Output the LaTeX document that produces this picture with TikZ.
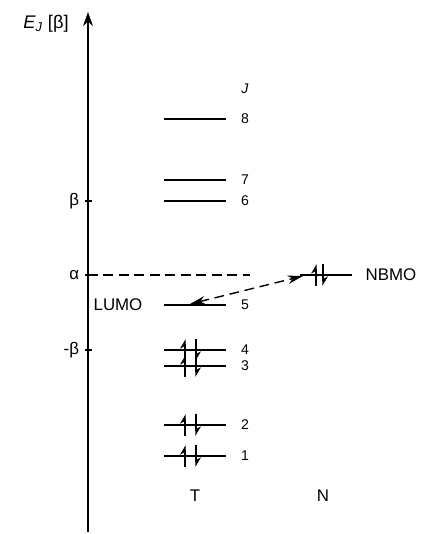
\documentclass[tikz,border=0pt]{standalone}
\usepackage{fontspec}
\setmainfont{Liberation Sans}
\usetikzlibrary{arrows.meta}

\tikzset{
  orbital/.style={line width=1pt},
  spin/.style={line width=1pt,-{Stealth[harpoon,length=6pt,width=7pt]}},
  numlabel/.style={font=\fontsize{10}{12}\selectfont},
  hop/.style={line width=1pt,dash pattern=on 7pt off 4pt,
    {Stealth[length=11pt,width=6pt]}-{Stealth[length=11pt,width=6pt]}},
}
% a pair of electrons on a level at height #3
\newcommand{\epair}[3]{%
  \draw[spin] (#1,#3-11) -- (#1,#3+11);
  \draw[spin] (#2,#3+11) -- (#2,#3-11);}

\begin{document}
\begin{tikzpicture}[x=0.025cm,y=0.025cm,font=\fontsize{12}{14}\selectfont]
  \useasboundingbox (0,0) rectangle (426,534);
  % energy axis
  \coordinate (axbot) at (88,2);
  \coordinate (axtop) at (88,522);
  \draw[line width=1.1pt,-{Stealth[length=10pt,width=7pt]}] (axbot) -- (axtop);
  \node (elab) at (46,510) {\fontsize{13}{15}\selectfont\textit{E}\textsubscript{\textit{J}} [β]};
  \draw[line width=1pt] (85,333) -- (92,333);
  \draw[line width=1pt] (85,259) -- (92,259);
  \draw[line width=1pt] (85,184) -- (92,184);
  \node[left] (tbeta) at (84,333) {β};
  \node[left] (talpha) at (84,259) {α};
  \node[left] (tmbeta) at (84,184) {-β};
  \draw[line width=1pt,dash pattern=on 7pt off 4pt] (88,259) -- (250,259);
  % levels of T
  \node[numlabel] (jlab) at (245,445) {\textit{J}};
  \foreach \n/\y in {8/415,7/354,6/333,5/229,4/184,3/168,2/109,1/78} {
    \draw[orbital] (164,\y) -- (226,\y);
    \node[numlabel] (n\n) at (245,\y) {\n};
  }
  \epair{185}{196}{184}
  \epair{185}{196}{168}
  \epair{185}{196}{109}
  \epair{185}{196}{78}
  \node (lumo) at (118,229) {LUMO};
  % level of N
  \draw[orbital] (300,259) -- (352,259);
  \epair{316}{323}{259}
  \node (nbmo) at (391,259) {NBMO};
  % transfer
  \coordinate (lumoend) at (190,230);
  \coordinate (nbmoend) at (303,258);
  \draw[hop] (lumoend) -- (nbmoend);
  \node (tlab) at (195,38) {T};
  \node (nlab) at (323,38) {N};
\end{tikzpicture}
\end{document}
